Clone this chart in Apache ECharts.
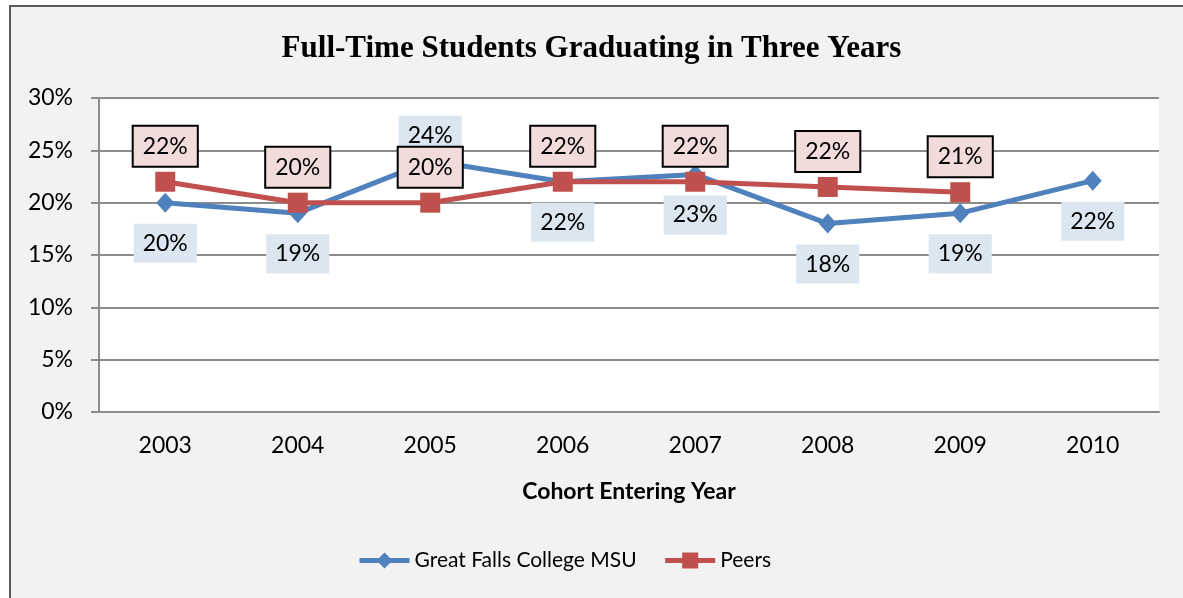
<!DOCTYPE html>
<html>
<head>
<meta charset="utf-8">
<script src="https://cdn.jsdelivr.net/npm/echarts@6/dist/echarts.min.js"></script>
<style>
	html, body { margin: 0; padding: 0; background: #fff; overflow: hidden; }
	#frame {
		position: absolute; left: 9px; top: 5px; width: 1300px; height: 700px;
		background: #f2f2f2; border-left: 2px solid #5a5a5a; border-top: 2px solid #5a5a5a;
	}
	#chart { position: absolute; left: 0; top: 0; width: 1183px; height: 598px; }
</style>
</head>
<body>
<div id="frame"></div>
<div id="chart"></div>
<script>
// 数据
var years = ["2003", "2004", "2005", "2006", "2007", "2008", "2009", "2010"];
var gfc_values = [20, 19, 24, 22, 22.7, 18, 19, 22.1];
var peer_values = [22, 20, 20, 22, 22, 21.5, 21, null];
var y_ticks = [0, 5, 10, 15, 20, 25, 30];

var font = "Lato, 'Open Sans', sans-serif";

// 标签样式
function label_style(bg, border, pos, dist) {
	return {
		show: true,
		position: pos,
		distance: dist,
		fontFamily: font,
		fontSize: 23,
		color: "#000",
		backgroundColor: bg,
		borderColor: border,
		borderWidth: border ? 2 : 0,
		padding: [8, 9, 8, 9],
		formatter: p => Math.round(p.value) + "%"
	};
}

var chart = echarts.init(document.getElementById("chart"));

var option = {
	animation: false,
	title: {
		text: "Full-Time Students Graduating in Three Years",
		left: "center",
		top: 28,
		textStyle: {
			fontFamily: "'Liberation Serif', 'Times New Roman', serif",
			fontSize: 31,
			fontWeight: "bold",
			color: "#000"
		}
	},
	grid: {
		left: 99,
		right: 24,
		top: 98,
		bottom: 186,
		show: true,
		backgroundColor: "#fff",
		borderWidth: 0
	},
	legend: {
		bottom: 22,
		left: 352,
		itemWidth: 50,
		itemHeight: 20,
		itemGap: 26,
		lineStyle: { width: 5 },
		textStyle: { fontFamily: font, fontSize: 21, color: "#000" },
		data: ["Great Falls College MSU", "Peers"]
	},
	xAxis: {
		type: "category",
		data: years,
		name: "Cohort Entering Year",
		nameLocation: "middle",
		nameGap: 68,
		nameTextStyle: { fontFamily: font, fontSize: 23, fontWeight: "bold", color: "#000" },
		axisLine: { lineStyle: { color: "#8c8c8c", width: 2 } },
		axisTick: { length: 8, lineStyle: { color: "#8c8c8c", width: 2 } },
		axisLabel: { fontFamily: font, fontSize: 23, color: "#000", margin: 22 }
	},
	yAxis: {
		type: "value",
		min: y_ticks[0],
		max: y_ticks[y_ticks.length - 1],
		interval: 5,
		axisLine: { show: true, lineStyle: { color: "#8c8c8c", width: 2 } },
		axisTick: { show: true, length: 8, lineStyle: { color: "#8c8c8c", width: 2 } },
		splitLine: { lineStyle: { color: "#8c8c8c", width: 2 } },
		axisLabel: {
			fontFamily: font, fontSize: 23, color: "#000", margin: 26,
			formatter: "{value}%"
		}
	},
	series: [
		{
			name: "Great Falls College MSU",
			type: "line",
			data: gfc_values.map((v, i) => ({
				value: v,
				label: i === 2
					? label_style("#dce6f1", null, "top", -4)
					: label_style("#dce6f1", null, "bottom", 11)
			})),
			symbol: "diamond",
			symbolSize: [18, 20],
			itemStyle: { color: "#4f81bd" },
			lineStyle: { color: "#4f81bd", width: 5 },
			z: 2
		},
		{
			name: "Peers",
			type: "line",
			data: peer_values,
			symbol: "rect",
			symbolSize: 20,
			itemStyle: { color: "#c0504d" },
			lineStyle: { color: "#c0504d", width: 5 },
			label: label_style("#f2dcdb", "#000", "top", 6),
			z: 3
		}
	]
};

chart.setOption(option);
window.addEventListener("resize", chart.resize);
</script>
</body>
</html>
